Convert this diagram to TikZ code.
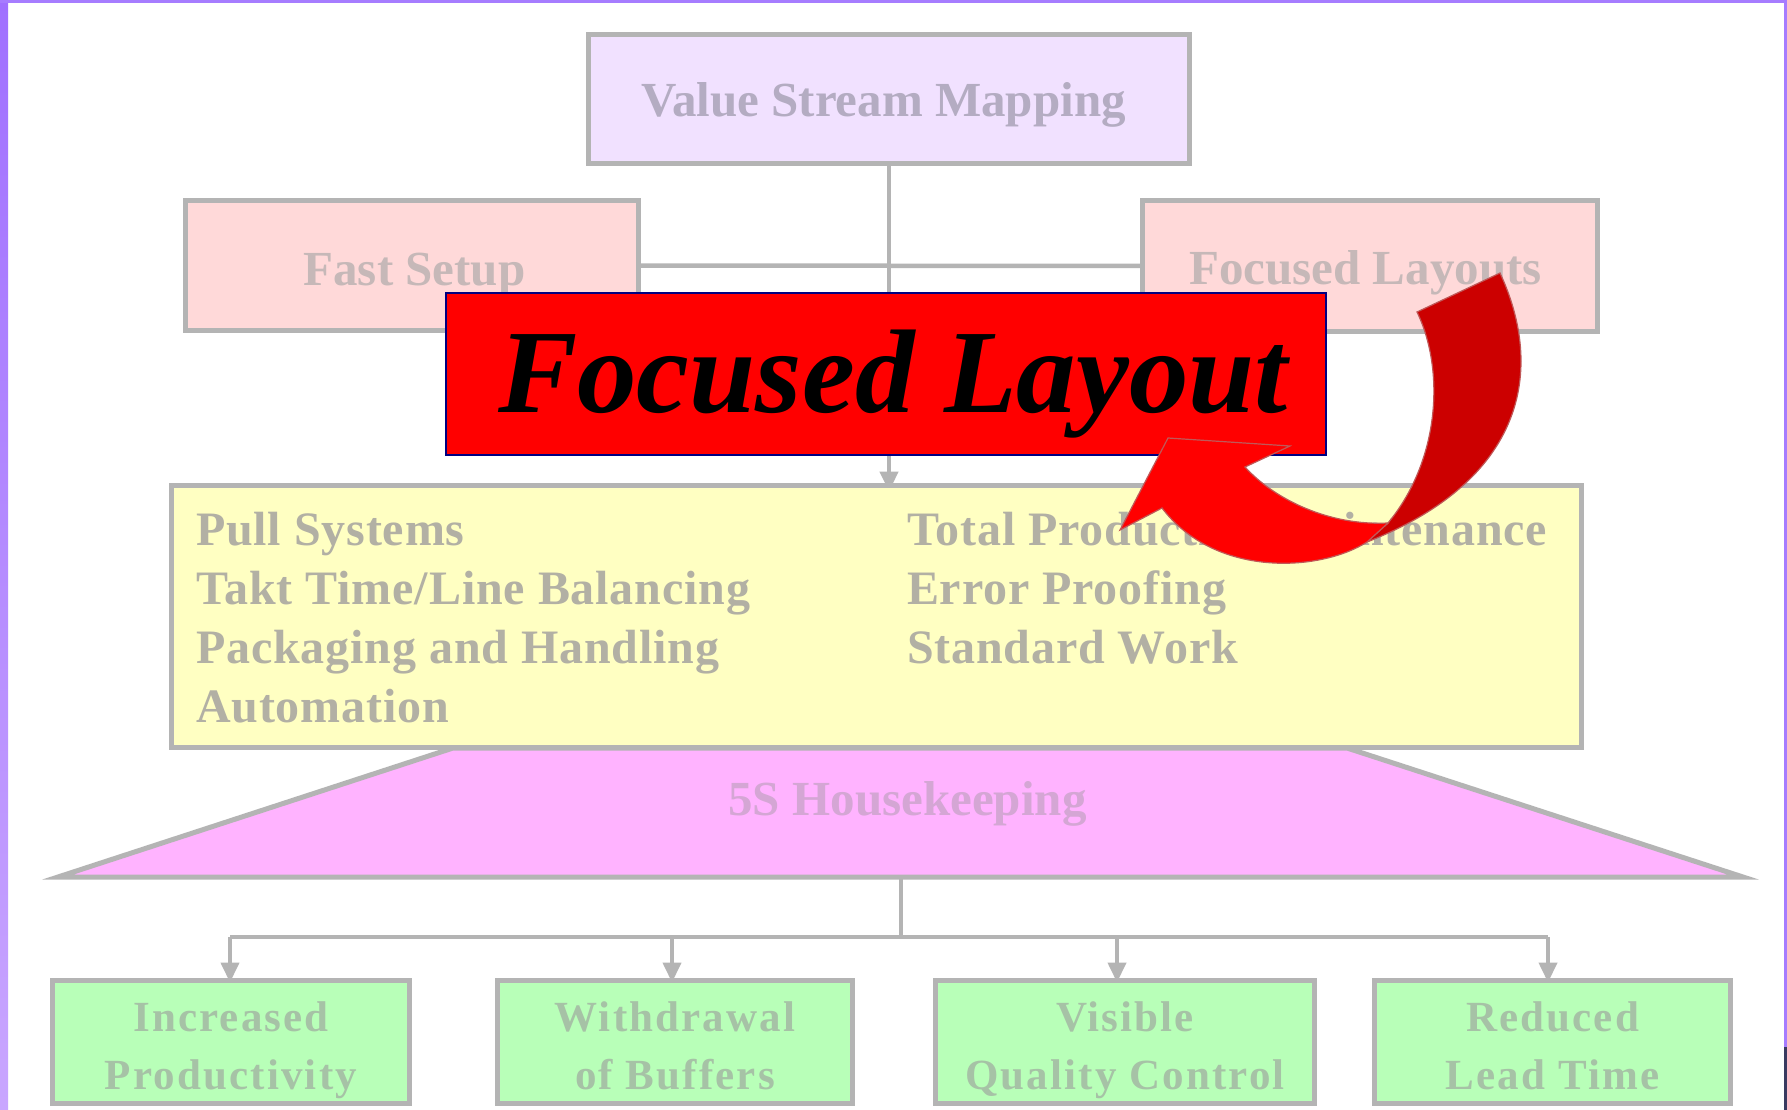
\documentclass[tikz,border=0pt]{standalone}
\usepackage{fontspec}
\setmainfont{Liberation Serif}
\newfontfamily\spacedserif[LetterSpace=5]{Liberation Serif}
\newfontfamily\listserif[LetterSpace=1.8]{Liberation Serif}
\usetikzlibrary{arrows.meta}
\definecolor{frameviolet}{HTML}{A67CFF}
\definecolor{frameviolettop}{HTML}{A070FF}
\definecolor{framevioletbot}{HTML}{C9A6FF}
\definecolor{framedark}{HTML}{3A3A60}
\definecolor{linegray}{HTML}{B4B4B4}
\definecolor{vsmfill}{HTML}{F1E1FF}
\definecolor{vsmtext}{HTML}{B4ACC2}
\definecolor{pinkfill}{HTML}{FFD9D9}
\definecolor{pinktext}{HTML}{C6B8B8}
\definecolor{yellowfill}{HTML}{FFFFC2}
\definecolor{yellowtext}{HTML}{B2B0A4}
\definecolor{magfill}{HTML}{FFB3FF}
\definecolor{magtext}{HTML}{D4A6D4}
\definecolor{greenfill}{HTML}{B8FFB8}
\definecolor{greentext}{HTML}{A6C2A6}
\definecolor{brightred}{HTML}{FF0000}
\definecolor{deepred}{HTML}{CC0000}
\definecolor{arrowedge}{HTML}{C05858}
\definecolor{navyedge}{HTML}{000080}
\begin{document}
\begin{tikzpicture}[x=1pt,y=-1pt,
  boxshape/.style={rectangle, draw=linegray, line width=5pt, inner sep=0pt, outer sep=0pt},
  conn/.style={draw=linegray, line width=4.5pt},
  connarrow/.style={conn, -{Triangle[width=18pt,length=20pt]}},
  lbl/.style={inner sep=0pt, outer sep=0pt, anchor=base, font=\fontsize{49}{59}\selectfont\bfseries},
  listtxt/.style={inner sep=0pt, outer sep=0pt, anchor=north west, align=left, text=yellowtext, font=\listserif\fontsize{48}{59}\selectfont\bfseries},
  greentxt/.style={inner sep=0pt, outer sep=0pt, anchor=north, align=center, text=greentext, font=\spacedserif\fontsize{43}{58}\selectfont\bfseries},
  redfill/.style={line width=1.2pt, draw=arrowedge}
]
\useasboundingbox (0,0) rectangle (1787,1110);
\fill[white] (0,0) rectangle (1787,1110);
% frame
\shade[top color=frameviolettop, bottom color=framevioletbot] (0,0) rectangle (8,1110);
\fill[frameviolet] (0,0) rectangle (1787,3);
\fill[frameviolet] (1784,0) rectangle (1787,1047);
\fill[framedark] (1784,1047) rectangle (1787,1110);

% top boxes and connectors
\node[boxshape, fill=vsmfill, minimum width=601pt, minimum height=129pt] (vsm) at (889,99) {};
\node[boxshape, fill=pinkfill, minimum width=453pt, minimum height=130pt] (fast) at (412,265.5) {};
\node[boxshape, fill=pinkfill, minimum width=455pt, minimum height=131pt] (focus) at (1370,266) {};
\node[boxshape, fill=yellowfill, minimum width=1410pt, minimum height=262pt] (yellow) at (876.5,616.5) {};
\draw[conn] (fast.east) -- (focus.west);
\draw[connarrow] (vsm.south) -- ([yshift=-6pt]vsm.south |- yellow.north);

% texts top
\node[lbl, text=vsmtext] (vsmt) at (883.5,117) {Value Stream Mapping};
\node[lbl, text=pinktext] (fastt) at (414.5,285) {Fast Setup};
\node[lbl, text=pinktext] (focust) at (1365.5,284) {Focused Layouts};

% trapezoid 5S
\coordinate (tl) at (453,748);
\coordinate (tr) at (1347,748);
\coordinate (br) at (1743,877);
\coordinate (bl) at (58,877);
\coordinate (trapS) at (901,877);
\filldraw[fill=magfill, draw=linegray, line width=5pt, line join=miter] (tl) -- (tr) -- (br) -- (bl) -- cycle;
% yellow box redrawn over trapezoid top
\node[boxshape, fill=yellowfill, minimum width=1410pt, minimum height=262pt] (yellow2) at (876.5,616.5) {};
\node[listtxt] (leftlist) at (196,512.5) {Pull Systems\\Takt Time/Line Balancing\\Packaging and Handling\\Automation};
\node[listtxt] (rightlist) at (907,512.5) {Total Productive Maintenance\\Error Proofing\\Standard Work};
\node[lbl, text=magtext] (fives) at (907.5,815) {5S Housekeeping};

% bottom boxes
\node[boxshape, fill=greenfill, minimum width=357pt, minimum height=123pt] (g1) at (231,1042) {};
\node[boxshape, fill=greenfill, minimum width=355pt, minimum height=123pt] (g2) at (675,1042) {};
\node[boxshape, fill=greenfill, minimum width=379pt, minimum height=123pt] (g3) at (1125,1042) {};
\node[boxshape, fill=greenfill, minimum width=356pt, minimum height=123pt] (g4) at (1552.5,1042) {};
\coordinate (bus) at (901,937);
\coordinate (a1) at (230,937);
\coordinate (a2) at (672,937);
\coordinate (a3) at (1117,937);
\coordinate (a4) at (1548,937);
\draw[conn, line width=4pt] (trapS) -- (bus);
\draw[conn, line width=4pt] (a1) -- (a4);
\foreach \a/\b in {a1/g1,a2/g2,a3/g3,a4/g4}{
  \draw[connarrow, line width=4pt] (\a) -- ([yshift=-2pt]\a |- \b.north);
}
\node[greentxt] (g1t) at (231,1002) {Increased\\Productivity};
\node[greentxt] (g2t) at (675,1002) {Withdrawal\\of Buffers};
\node[greentxt] (g3t) at (1125,1002) {Visible\\Quality Control};
\node[greentxt] (g4t) at (1552.5,1002) {Reduced\\Lead Time};

% red title box
\node[rectangle, draw=navyedge, line width=2pt, fill=brightred, minimum width=880pt, minimum height=162pt, inner sep=0pt] (title) at (885.75,374) {};
\node[inner sep=0pt, anchor=base, font=\fontsize{119}{130}\selectfont\bfseries\itshape, text=black] (titlet) at (893,412) {Focused Layout};

% curved red arrow
\fill[deepred, redfill] (1388,523) .. controls (1440,460) and (1445,370) .. (1417,312) -- (1500,273) .. controls (1545,370) and (1525,480) .. (1367,542) -- cycle;
\fill[brightred, redfill] (1168,438) -- (1290,446) -- (1245,467) .. controls (1275,500) and (1330,526) .. (1388,523) -- (1367,542) .. controls (1320,572) and (1215,578) .. (1162,508) -- (1120,530) -- cycle;
\end{tikzpicture}
\end{document}
